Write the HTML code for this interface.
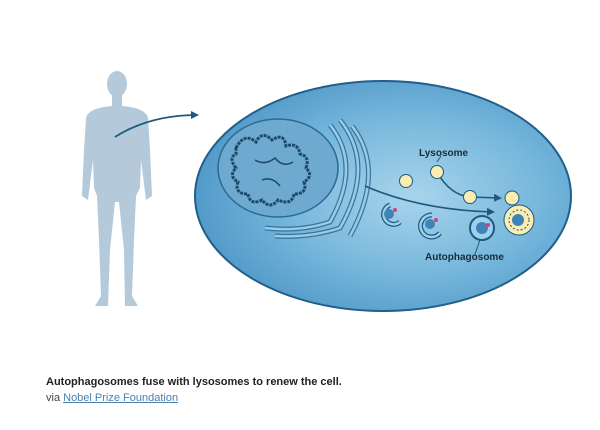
<!DOCTYPE html>
<html><head><style>
body{margin:0;background:#fff;width:600px;height:430px;overflow:hidden;font-family:"Liberation Sans",Arial,sans-serif}
.cap{position:absolute;left:46px;top:376px;font-size:11px;font-weight:bold;color:#222}
.via{position:absolute;left:46px;top:392px;font-size:11px;color:#444}
.via span{color:#4a7fb0;text-decoration:underline}
</style></head><body>
<svg width="600" height="430" style="position:absolute;left:0;top:0">
<defs>
<radialGradient id="cg" cx="0.58" cy="0.5" r="0.6">
<stop offset="0" stop-color="#a8d4ec"/><stop offset="0.55" stop-color="#78b8dc"/><stop offset="1" stop-color="#4f98c8"/>
</radialGradient>
<marker id="ah" markerWidth="8" markerHeight="8" refX="6" refY="4" orient="auto" markerUnits="userSpaceOnUse"><path d="M0,0 L8,4 L0,8z" fill="#1e5a80"/></marker>
</defs>
<!-- human -->
<g fill="#b4cadb">
<ellipse cx="117" cy="84" rx="10" ry="13"/>
<rect x="112" y="94" width="10" height="14"/>
<path d="M86,118 Q88,108 112,106 L122,106 Q146,108 148,118 L150,150 L152,196 L146,200 L141,160 L140,188 L136,196 L134,240 L132,296 L138,306 L125,306 L124,250 L119,202 L115,202 L110,250 L108,306 L95,306 L101,296 L99,240 L97,196 L94,188 L93,160 L88,200 L82,196 L84,150 Z"/>
</g>
<path d="M115,137 Q150,115 197,115" fill="none" stroke="#1e5a80" stroke-width="1.8" marker-end="url(#ah)"/>
<!-- cell -->
<ellipse cx="383" cy="196" rx="188" ry="115" fill="url(#cg)" stroke="#1f5f8a" stroke-width="2"/>
<!-- nucleus -->
<ellipse cx="278" cy="168" rx="60" ry="49" fill="#6eaad0" stroke="#2a6a94" stroke-width="1.5"/>
<path d="M236,148 q8,-16 20,-6 q6,-12 16,-2 q12,-8 14,6 q12,-4 14,8 q10,2 6,14 q8,8 -2,14 q4,12 -10,12 q-2,12 -16,6 q-8,10 -16,0 q-12,6 -14,-6 q-14,0 -10,-12 q-10,-6 -2,-14 q-8,-10 0,-14 z" fill="none" stroke="#1d4a6a" stroke-width="3" stroke-dasharray="3 1"/>
<path d="M255,160 q10,6 20,-2 q8,10 18,4 M262,180 q10,-4 18,6" fill="none" stroke="#1d4a6a" stroke-width="1.5"/>
<!-- ER -->
<g fill="none" stroke="#2a6a94" stroke-width="5" opacity="0.85">
<path d="M330,125 Q362,165 330,222 Q300,232 265,228"/>
<path d="M340,120 Q376,165 340,228 Q310,238 275,236"/>
<path d="M352,126 Q386,170 350,236"/>
</g>
<g fill="none" stroke="#9ccbe6" stroke-width="2.5">
<path d="M330,125 Q362,165 330,222 Q300,232 265,228"/>
<path d="M340,120 Q376,165 340,228 Q310,238 275,236"/>
<path d="M352,126 Q386,170 350,236"/>
</g>
<!-- arrows -->
<path d="M365,186 Q420,210 493,212" fill="none" stroke="#1e5a80" stroke-width="1.6" marker-end="url(#ah)"/>
<path d="M437,172 Q450,195 470,197 L500,198" fill="none" stroke="#1e5a80" stroke-width="1.6" marker-end="url(#ah)"/>
<!-- lysosomes -->
<g fill="#fbecb2" stroke="#1e5a80" stroke-width="1">
<circle cx="406" cy="181" r="6.5"/><circle cx="437" cy="172" r="6.5"/><circle cx="470" cy="197" r="6.5"/><circle cx="512" cy="198" r="7"/>
<circle cx="519" cy="220" r="15"/>
</g>
<circle cx="519" cy="220" r="10" fill="none" stroke="#1e5a80" stroke-dasharray="2 2"/>
<circle cx="518" cy="220" r="6" fill="#3d84b8"/>
<!-- autophagosomes -->
<g fill="none" stroke="#1e5a80" stroke-width="5">
<path d="M390,205 A10,10 0 1 0 400,222"/>
<path d="M432,215 A11,11 0 1 0 440,233"/>
</g>
<g fill="none" stroke="#9dd0ec" stroke-width="2.5">
<path d="M390,205 A10,10 0 1 0 400,222"/>
<path d="M432,215 A11,11 0 1 0 440,233"/>
</g>
<circle cx="482" cy="228" r="12" fill="#9dd0ec" stroke="#1e5a80" stroke-width="2"/>
<g fill="#3d84b8"><circle cx="389" cy="214" r="5"/><circle cx="430" cy="224" r="5"/><circle cx="482" cy="228" r="6"/></g>
<g fill="#d0407a"><circle cx="395" cy="210" r="2"/><circle cx="436" cy="220" r="2"/><circle cx="488" cy="225" r="2"/></g>
<line x1="480" y1="240" x2="475" y2="254" stroke="#1e5a80"/>
<line x1="437" y1="162" x2="441" y2="156" stroke="#1e5a80"/>
<text x="419" y="156" font-size="10" font-weight="bold" fill="#1a2a3a" font-family="Liberation Sans,sans-serif">Lysosome</text>
<text x="425" y="260" font-size="10" font-weight="bold" fill="#1a2a3a" font-family="Liberation Sans,sans-serif">Autophagosome</text>
</svg>
<div class="cap">Autophagosomes fuse with lysosomes to renew the cell.</div>
<div class="via">via <span>Nobel Prize Foundation</span></div>
</body></html>
